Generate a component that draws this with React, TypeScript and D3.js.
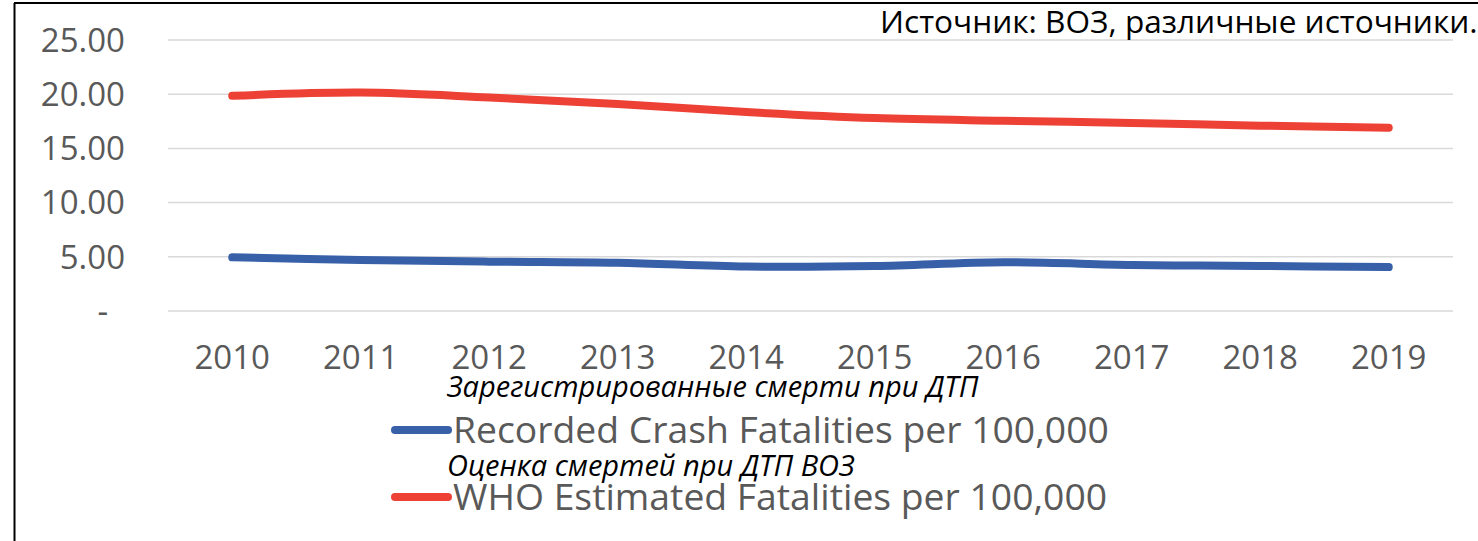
import React from "react";
import * as d3 from "d3";

const years = ["2010", "2011", "2012", "2013", "2014", "2015", "2016", "2017", "2018", "2019"];
const recorded = [4.95, 4.7, 4.55, 4.45, 4.1, 4.15, 4.5, 4.25, 4.15, 4.05];
const whoEstimated = [19.85, 20.15, 19.7, 19.1, 18.35, 17.8, 17.55, 17.35, 17.1, 16.9];
const yTicks = [0, 5, 10, 15, 20, 25];
const seriesNames = ["Recorded Crash Fatalities per 100,000", "WHO Estimated Fatalities per 100,000"];
const seriesRu = ["Зарегистрированные смерти при ДТП", "Оценка смертей при ДТП ВОЗ"];
const sourceText = "Источник: ВОЗ, различные источники.";

const W = 1478;
const H = 541;
const BLUE = "#3760A9";
const RED = "#EE4136";
const GRAY = "#595959";
const FONT = "'Open Sans', 'Noto Sans', sans-serif";

export default function App() {
  const x = d3.scalePoint<string>().domain(years).range([168, 1453]).padding(0.5);
  const y = d3.scaleLinear().domain([0, 25]).range([311, 40]);
  const line = d3
    .line<number>()
    .x((_, i) => x(years[i]) as number)
    .y((d) => y(d))
    .curve(d3.curveCatmullRom.alpha(0.5));
  const series = [
    { values: recorded, color: BLUE },
    { values: whoEstimated, color: RED },
  ];
  const ruY = [387, 466];
  const fmt = d3.format(".2f");
  return (
    <svg width={W} height={H} style={{ position: "absolute", left: 0, top: 0, background: "#fff" }}>
      <rect x={0} y={0} width={W} height={H} fill="#fff" />
      {/* frame */}
      <line x1={14.5} y1={3} x2={14.5} y2={H} stroke="#000" strokeWidth={2} />
      <line x1={14} y1={3} x2={W} y2={3} stroke="#000" strokeWidth={2} />
      {/* gridlines */}
      {yTicks.map((t) => (
        <line key={t} x1={168} x2={1453} y1={y(t)} y2={y(t)} stroke="#D9D9D9" strokeWidth={1.5} />
      ))}
      {/* y labels */}
      {yTicks.map((t) => (
        <text
          key={"l" + t}
          x={t === 0 ? 108 : 125}
          y={y(t)}
          dy="0.36em"
          textAnchor="end"
          fontFamily={FONT}
          fontSize={33}
          fill={GRAY}
        >
          {t === 0 ? "-" : fmt(t)}
        </text>
      ))}
      {/* x labels */}
      {years.map((yr) => (
        <text
          key={yr}
          x={x(yr)}
          y={357}
          dy="0.36em"
          textAnchor="middle"
          fontFamily={FONT}
          fontSize={33}
          fill={GRAY}
        >
          {yr}
        </text>
      ))}
      {/* lines */}
      {series.map((s, i) => (
        <path
          key={i}
          d={line(s.values) || ""}
          fill="none"
          stroke={s.color}
          strokeWidth={8}
          strokeLinecap="round"
          strokeLinejoin="round"
        />
      ))}
      {/* source */}
      <text x={880} y={22} dy="0.36em" fontFamily={FONT} fontSize={31.6} fill="#000">
        {sourceText}
      </text>
      {/* legend */}
      {series.map((s, i) => {
        const cy = 430 + i * 67;
        return (
          <g key={"leg" + i}>
            <text
              x={447}
              y={ruY[i]}
              dy="0.36em"
              fontFamily={FONT}
              fontStyle="italic"
              fontSize={29}
              fill="#000"
            >
              {seriesRu[i]}
            </text>
            <line x1={395} x2={448} y1={cy} y2={cy} stroke={s.color} strokeWidth={8} strokeLinecap="round" />
            <text x={453} y={cy} dy="0.36em" fontFamily={FONT} fontSize={37.3} fill={GRAY}>
              {seriesNames[i]}
            </text>
          </g>
        );
      })}
    </svg>
  );
}
